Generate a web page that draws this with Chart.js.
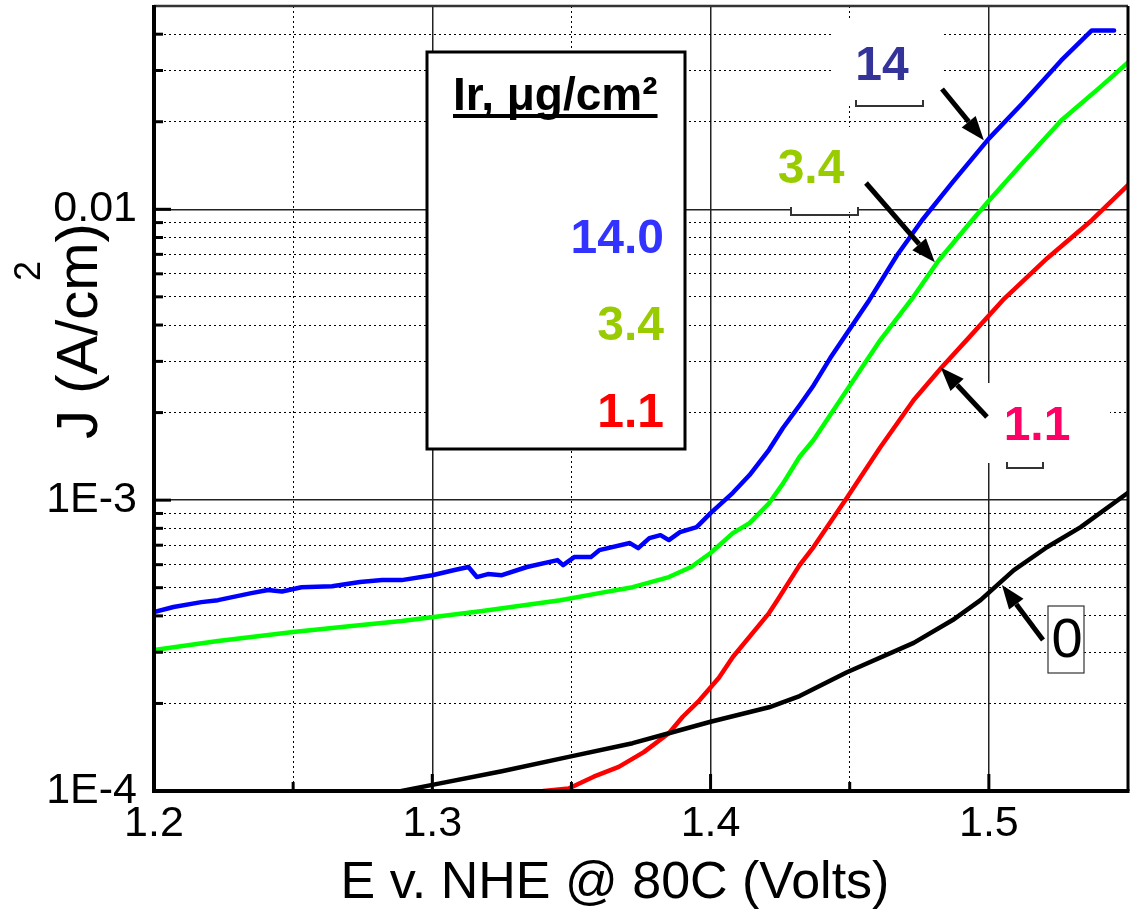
<!DOCTYPE html>
<html><head><meta charset="utf-8">
<script src="https://cdn.jsdelivr.net/npm/chart.js@4.4.1/dist/chart.umd.min.js"></script>
<style>html,body{margin:0;padding:0;background:#fff;}canvas{display:block;}</style>
</head><body>
<canvas id="c" width="1132" height="910"></canvas>
<script>
const FONT = '"Liberation Sans", Arial, Helvetica, sans-serif';

// Series: Ir loading (ug/cm2) -> potential (V) / current density (A/cm2)
const seriesNames = ['14.0', '3.4', '1.1', '0'];
const seriesColors = ['#0000ff', '#00ff00', '#ff0000', '#000000'];

const ir14V = [1.200,1.207,1.217,1.223,1.235,1.241,1.246,1.253,1.264,1.274,1.282,1.289,1.300,1.308,1.313,1.316,1.320,1.325,1.334,1.345,1.347,1.351,1.357,1.360,1.371,1.374,1.378,1.382,1.385,1.389,1.395,1.400,1.408,1.414,1.421,1.426,1.432,1.437,1.443,1.449,1.457,1.467,1.476,1.487,1.500,1.512,1.526,1.537,1.545];
const ir14J = [4.12e-4,4.29e-4,4.46e-4,4.53e-4,4.79e-4,4.91e-4,4.85e-4,5.02e-4,5.06e-4,5.23e-4,5.31e-4,5.31e-4,5.52e-4,5.75e-4,5.89e-4,5.44e-4,5.57e-4,5.52e-4,5.89e-4,6.22e-4,5.98e-4,6.37e-4,6.37e-4,6.73e-4,7.12e-4,6.84e-4,7.40e-4,7.58e-4,7.29e-4,7.76e-4,8.08e-4,9.02e-4,1.06e-3,1.22e-3,1.49e-3,1.77e-3,2.12e-3,2.48e-3,3.08e-3,3.75e-3,4.87e-3,6.95e-3,9.17e-3,1.24e-2,1.75e-2,2.31e-2,3.25e-2,4.12e-2,4.12e-2];

const ir34V = [1.200,1.223,1.250,1.271,1.289,1.318,1.346,1.360,1.372,1.385,1.393,1.400,1.408,1.414,1.421,1.426,1.432,1.437,1.449,1.461,1.472,1.482,1.494,1.500,1.512,1.526,1.540,1.550];
const ir34J = [3.05e-4,3.28e-4,3.52e-4,3.69e-4,3.84e-4,4.16e-4,4.53e-4,4.79e-4,5.02e-4,5.44e-4,5.89e-4,6.58e-4,7.70e-4,8.34e-4,9.76e-4,1.14e-3,1.41e-3,1.61e-3,2.39e-3,3.55e-3,4.87e-3,6.68e-3,9.17e-3,1.07e-2,1.44e-2,2.02e-2,2.63e-2,3.20e-2];

const ir11V = [1.335,1.340,1.349,1.358,1.367,1.376,1.385,1.390,1.396,1.403,1.408,1.421,1.424,1.432,1.437,1.449,1.461,1.473,1.483,1.492,1.505,1.521,1.537,1.550];
const ir11J = [9.3e-5,1.00e-4,1.02e-4,1.12e-4,1.21e-4,1.36e-4,1.58e-4,1.80e-4,2.05e-4,2.45e-4,2.89e-4,4.09e-4,4.53e-4,5.98e-4,6.90e-4,1.02e-3,1.52e-3,2.21e-3,2.86e-3,3.55e-3,4.87e-3,6.79e-3,9.17e-3,1.21e-2];

const ir0V = [1.278,1.289,1.300,1.325,1.349,1.372,1.385,1.400,1.421,1.432,1.449,1.473,1.487,1.497,1.509,1.521,1.533,1.550];
const ir0J = [9.5e-5,1.00e-4,1.05e-4,1.17e-4,1.31e-4,1.46e-4,1.58e-4,1.73e-4,1.94e-4,2.12e-4,2.56e-4,3.23e-4,3.87e-4,4.53e-4,5.75e-4,6.90e-4,8.08e-4,1.06e-3];

// Axes
const xTickValues = [1.2,1.25,1.3,1.35,1.4,1.45,1.5,1.55];
const xTickLabels = ['1.2','','1.3','','1.4','','1.5',''];
const yDecades = [1e-4, 1e-3, 1e-2];
const yDecadeLabels = ['1E-4', '1E-3', '0.01'];
const yMultipliers = [1,2,3,4,5,6,7,8,9];
const yMin = 1e-4, yMax = 0.05, xMin = 1.2, xMax = 1.55;

// Annotations (arrow tips in data coordinates)
const callouts = [
  {text:'14',  color:'#333399', tip:{x:1.4982, y:1.727e-2}},
  {text:'3.4', color:'#99cc00', tip:{x:1.4806, y:6.57e-3}},
  {text:'1.1', color:'#ff0066', tip:{x:1.4827, y:2.86e-3}},
  {text:'0',   color:'#000000', tip:{x:1.5047, y:5.11e-4}}
];
const legendTitle = 'Ir, \u03BCg/cm\u00B2';
const legendColors = ['#3333ff', '#99cc00', '#ff0000'];

const yTickValues = [], yTickLabels = [];
yDecades.forEach((d, i) => {
  yMultipliers.forEach(m => {
    const v = d * m;
    if (v < yMax * 0.999) { yTickValues.push(v); yTickLabels.push(m === 1 ? yDecadeLabels[i] : ''); }
  });
});
const isMajorY = v => yDecades.some(d => Math.abs(v / d - 1) < 1e-6);
const isMajorX = v => { const i = xTickValues.findIndex(t => Math.abs(t - v) < 1e-9); return i >= 0 && xTickLabels[i] !== ''; };

function mk(vs, js) { return vs.map((v, i) => ({x: v, y: js[i]})); }
const seriesData = [mk(ir14V, ir14J), mk(ir34V, ir34J), mk(ir11V, ir11J), mk(ir0V, ir0J)];

function arrow(ctx, x1, y1, x2, y2, headLen, headW) {
  const a = Math.atan2(y2 - y1, x2 - x1);
  const bx = x2 - headLen * Math.cos(a), by = y2 - headLen * Math.sin(a);
  ctx.beginPath(); ctx.moveTo(x1, y1); ctx.lineTo(bx, by); ctx.stroke();
  ctx.beginPath(); ctx.moveTo(x2, y2);
  ctx.lineTo(bx + headW * Math.sin(a), by - headW * Math.cos(a));
  ctx.lineTo(bx - headW * Math.sin(a), by + headW * Math.cos(a));
  ctx.closePath(); ctx.fill();
}
function bracket(ctx, x1, x2, yTop, yBot) {
  ctx.beginPath(); ctx.moveTo(x1, yTop); ctx.lineTo(x1, yBot); ctx.lineTo(x2, yBot); ctx.lineTo(x2, yTop); ctx.stroke();
}

const decor = {
  id: 'decor',
  beforeDatasetsDraw(chart) {
    const ctx = chart.ctx;
    ctx.save();
    ctx.fillStyle = '#fff';
    ctx.fillRect(833, 20, 110, 84);   // "14" box
    ctx.fillRect(791, 127, 67, 85);   // "3.4" box
    ctx.fillRect(986, 383, 124, 80);  // "1.1" box
    ctx.fillRect(1048, 606, 36, 67);  // "0" box
    ctx.fillRect(427, 52, 258, 397);  // legend
    ctx.restore();
  },
  afterDatasetsDraw(chart) {
    const ctx = chart.ctx;
    const xs = chart.scales.x, ys = chart.scales.y;
    const {left, right, top, bottom} = chart.chartArea;
    ctx.save();
    // frame
    ctx.lineCap = 'butt';
    ctx.lineWidth = 2.5; ctx.strokeStyle = '#333';
    ctx.beginPath(); ctx.moveTo(left, top); ctx.lineTo(right, top); ctx.stroke();
    ctx.strokeStyle = '#000';
    ctx.lineWidth = 3; ctx.beginPath(); ctx.moveTo(right, top); ctx.lineTo(right, bottom); ctx.stroke();
    ctx.lineWidth = 4;
    ctx.beginPath(); ctx.moveTo(left, top - 1); ctx.lineTo(left, bottom + 2); ctx.stroke();
    ctx.beginPath(); ctx.moveTo(left - 2, bottom); ctx.lineTo(right + 1.5, bottom); ctx.stroke();
    // inner ticks
    ctx.lineWidth = 3;
    ys.ticks.forEach(t => {
      const py = ys.getPixelForValue(t.value);
      if (py > bottom - 2) return;
      const len = isMajorY(t.value) ? 17 : 9;
      ctx.beginPath(); ctx.moveTo(left, py); ctx.lineTo(left + len, py); ctx.stroke();
    });
    xs.ticks.forEach(t => {
      const px = xs.getPixelForValue(t.value);
      if (px < left + 2 || px > right - 2) return;
      const len = isMajorX(t.value) ? 17 : 9;
      ctx.beginPath(); ctx.moveTo(px, bottom); ctx.lineTo(px, bottom - len); ctx.stroke();
    });

    // legend box
    ctx.lineWidth = 3; ctx.strokeStyle = '#000';
    ctx.strokeRect(427, 52, 258, 397);
    ctx.fillStyle = '#000';
    ctx.font = 'bold 46px ' + FONT;
    ctx.textAlign = 'left'; ctx.textBaseline = 'alphabetic';
    ctx.fillText(legendTitle, 453, 110);
    const tw = ctx.measureText(legendTitle).width;
    ctx.fillRect(453, 114, tw, 4);
    ctx.font = 'bold 48px ' + FONT;
    ctx.textAlign = 'right';
    const legendBase = [253, 340, 427];
    seriesNames.slice(0, 3).forEach((n, i) => {
      ctx.fillStyle = legendColors[i];
      ctx.fillText(n, 664, legendBase[i]);
    });

    // callouts
    const tails = [[942, 89], [866, 183], [987, 417], [1043, 640]];
    const textPos = [[882, 80], [811, 183], [1037, 440], [1067, 657]];
    ctx.strokeStyle = '#000'; ctx.fillStyle = '#000'; ctx.lineWidth = 5;
    callouts.forEach((c, i) => {
      const tx = xs.getPixelForValue(c.tip.x), ty = ys.getPixelForValue(c.tip.y);
      arrow(ctx, tails[i][0], tails[i][1], tx, ty, 24, 9);
    });
    ctx.textAlign = 'center';
    callouts.forEach((c, i) => {
      ctx.fillStyle = c.color;
      ctx.font = (i < 3 ? 'bold 48px ' : '56px ') + FONT;
      ctx.fillText(c.text, textPos[i][0], textPos[i][1]);
    });
    ctx.lineWidth = 2; ctx.strokeStyle = '#333';
    bracket(ctx, 856, 923, 100, 106);
    bracket(ctx, 791, 858, 207, 215);
    bracket(ctx, 1007, 1043, 462, 468);
    ctx.lineWidth = 1.2; ctx.strokeStyle = '#333';
    ctx.strokeRect(1048, 606, 36, 67);

    // axis titles
    ctx.fillStyle = '#000';
    ctx.font = '52px ' + FONT;
    ctx.textAlign = 'center';
    ctx.fillText('E v. NHE @ 80C (Volts)', 615, 898);
    ctx.save();
    ctx.translate(97, 331); ctx.rotate(-Math.PI / 2);
    ctx.font = '58px ' + FONT;
    ctx.fillText('J (A/cm)', 0, 0);
    ctx.restore();
    ctx.save();
    ctx.translate(40, 271); ctx.rotate(-Math.PI / 2);
    ctx.font = '36px ' + FONT;
    ctx.fillText('2', 0, 0);
    ctx.restore();
    ctx.restore();
  }
};

new Chart(document.getElementById('c'), {
  type: 'line',
  data: {
    datasets: seriesData.map((d, i) => ({
      label: seriesNames[i], data: d, borderColor: seriesColors[i], backgroundColor: seriesColors[i],
      borderWidth: 4.5, pointRadius: 0, tension: 0, fill: false, clip: 0,
      borderJoinStyle: 'round', borderCapStyle: 'round'
    })).reverse()
  },
  options: {
    responsive: false, animation: false, devicePixelRatio: 1,
    layout: {padding: {left: 0, top: 6, right: 4, bottom: 0}},
    plugins: {legend: {display: false}, tooltip: {enabled: false}, title: {display: false}},
    scales: {
      x: {
        type: 'linear', min: xMin, max: xMax,
        afterFit(s) { s.height = 119; s.paddingLeft = 0; s.paddingRight = 0; },
        afterBuildTicks(s) { s.ticks = xTickValues.map(v => ({value: v})); },
        ticks: {autoSkip: false, maxRotation: 0, padding: 7, color: '#000',
          font: {family: FONT, size: 43}, callback: (v, i) => xTickLabels[i]},
        grid: {drawTicks: false,
          color: c => isMajorX(c.tick.value) ? '#222' : '#000',
          lineWidth: c => isMajorX(c.tick.value) ? 1.5 : 1},
        border: {display: false, dash: c => (c.tick && isMajorX(c.tick.value)) ? [] : [2, 3]}
      },
      y: {
        type: 'logarithmic', min: yMin, max: yMax,
        afterFit(s) { s.width = 154; s.paddingTop = 0; s.paddingBottom = 0; },
        afterBuildTicks(s) { s.ticks = yTickValues.map(v => ({value: v, major: isMajorY(v)})); },
        ticks: {autoSkip: false, padding: 17, color: '#000',
          font: {family: FONT, size: 43}, callback: (v, i) => yTickLabels[i]},
        grid: {drawTicks: false,
          color: c => isMajorY(c.tick.value) ? '#222' : '#000',
          lineWidth: c => isMajorY(c.tick.value) ? 1.5 : 1},
        border: {display: false, dash: c => (c.tick && isMajorY(c.tick.value)) ? [] : [2, 3]}
      }
    }
  },
  plugins: [decor]
});
</script>
</body></html>
